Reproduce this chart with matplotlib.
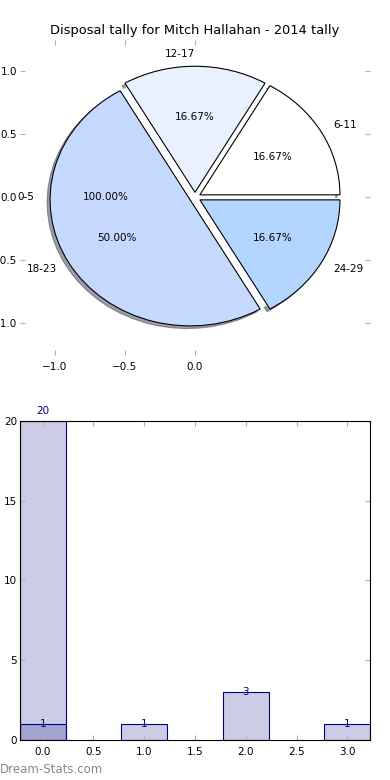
import matplotlib
matplotlib.use('Agg')
import matplotlib.pyplot as plt

# data
title = 'Disposal tally for Mitch Hallahan - 2014 tally'
first_labels = ['0-5']
first_values = [1]
age_labels = ['6-11', '12-17', '18-23', '24-29']
age_values = [1, 1, 3, 1]
age_colors = ['#ffffff', '#eaf1fe', '#c5d8fe', '#b3d5ff']

bar_x_a = [0]
bar_a = [20]
bar_x_b = [0, 1, 2, 3]
bar_b = [1, 1, 3, 1]

FONTSIZE = 7.5
TICK_GREY = '#b0b0b0'

fig = plt.figure(figsize=(3.9, 7.8), dpi=100)

# pie chart (two pies drawn on the same axes, like the original)
ax1 = fig.add_axes([0.051, 0.545, 0.898, 0.404])
ax1.pie(first_values, labels=first_labels, autopct='%1.2f%%', colors=['white'],
        labeldistance=1.15, pctdistance=0.64,
        wedgeprops={'linewidth': 0}, textprops={'fontsize': FONTSIZE})
ax1.pie(age_values, labels=age_labels, autopct='%1.2f%%', colors=age_colors,
        explode=[0.04] * len(age_values), shadow={'ox': -0.015, 'oy': -0.015},
        wedgeprops={'edgecolor': 'black', 'linewidth': 0.8},
        textprops={'fontsize': FONTSIZE})
ax1.set_aspect('auto')
ax1.set_xlim(-1.25, 1.25)
ax1.set_ylim(-1.25, 1.25)
ax1.set_frame_on(False)
ax1.set_xticks([-1.0, -0.5, 0.0])
ax1.set_yticks([-1.0, -0.5, 0.0, 0.5, 1.0])
ax1.tick_params(direction='in', top=True, right=True, length=3.5,
                color=TICK_GREY, labelsize=FONTSIZE, pad=5)
ax1.tick_params(axis='y', pad=2)
ax1.set_title(title, fontsize=9.4, pad=4)

# bar chart
ax2 = fig.add_axes([0.051, 0.0513, 0.898, 0.409])
ax2.bar(bar_x_a, bar_a, width=0.45, color=(0, 0, 0.5, 0.2), edgecolor='navy', linewidth=0.8)
ax2.bar(bar_x_b, bar_b, width=0.45, color=(0, 0, 0.5, 0.2), edgecolor='navy', linewidth=0.8)
for x, v in zip(bar_x_a, bar_a):
    ax2.text(x, v + 0.3, str(v), ha='center', va='bottom', color='navy', fontsize=FONTSIZE)
for x, v in zip(bar_x_b, bar_b):
    ax2.text(x, v, str(v), ha='center', va='center', color='navy', fontsize=FONTSIZE)
ax2.set_xlim(-0.225, 3.225)
ax2.set_ylim(0, 20)
ax2.set_xticks([0.0, 0.5, 1.0, 1.5, 2.0, 2.5, 3.0])
ax2.set_yticks([0, 5, 10, 15, 20])
ax2.tick_params(direction='in', top=True, right=True, length=3.5,
                color=TICK_GREY, labelsize=FONTSIZE, pad=5)
ax2.tick_params(axis='y', pad=2)
for sp in ax2.spines.values():
    sp.set_linewidth(0.8)

fig.text(0.0, 0.005, 'Dream-Stats.com', color='#888888', fontsize=8.5, ha='left', va='bottom')

plt.savefig('out.png', dpi=100)
